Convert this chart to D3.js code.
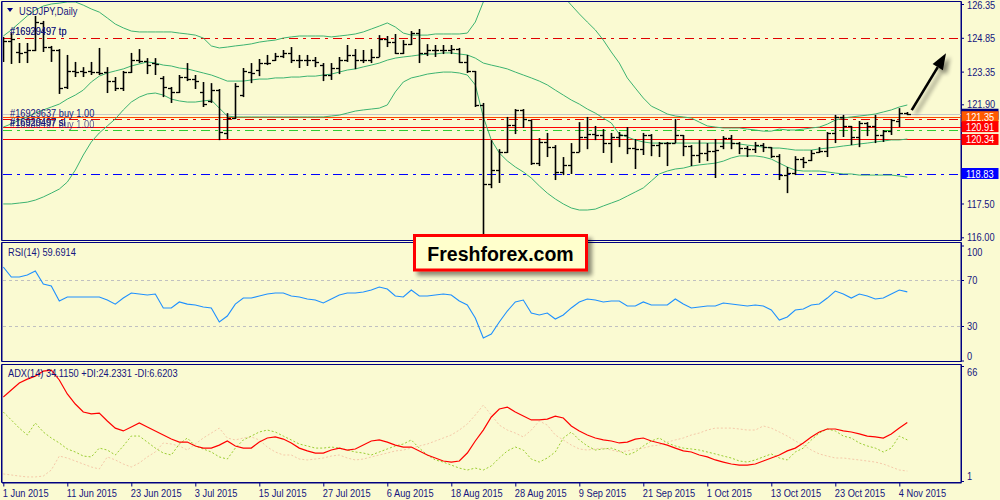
<!DOCTYPE html>
<html><head><meta charset="utf-8">
<script src="https://cdn.jsdelivr.net/npm/d3@7"></script>
<style>
html,body{margin:0;padding:0;background:#fafad2;}
svg{display:block;}
text{font-family:'Liberation Sans',Arial,sans-serif;font-size:11px;}
</style></head><body>
<svg id="chart" width="1000" height="500"></svg>
<script>
// ---------- DATA ----------
const symbolTitle = "USDJPY,Daily";
const tickLabels = ["1 Jun 2015","11 Jun 2015","23 Jun 2015","3 Jul 2015","15 Jul 2015","27 Jul 2015","6 Aug 2015","18 Aug 2015","28 Aug 2015","9 Sep 2015","21 Sep 2015","1 Oct 2015","13 Oct 2015","23 Oct 2015","4 Nov 2015"];
const tickIndex = [0,8,16,24,32,40,48,56,64,72,80,88,96,104,112];

const open = [124.75,124.72,124.20,124.22,124.31,125.50,124.44,124.31,122.67,123.38,123.38,123.38,123.33,123.33,122.93,122.62,123.33,123.86,123.82,123.73,123.07,122.62,122.44,123.11,123.02,122.44,122.05,122.53,120.63,121.29,122.31,123.33,123.42,123.73,123.86,124.04,124.18,123.86,123.88,123.86,123.64,123.20,123.51,123.86,124.09,123.86,123.86,124.00,124.80,124.66,124.18,124.58,125.06,124.18,124.31,124.31,124.31,124.35,123.78,123.38,121.87,118.36,118.98,119.78,120.98,121.65,121.20,119.30,120.23,120.00,118.90,119.21,119.78,120.45,120.58,120.54,120.18,120.45,120.54,119.96,119.91,120.54,120.09,120.18,120.18,120.54,120.05,119.65,119.74,119.83,120.05,120.40,120.18,119.96,119.91,120.09,120.00,119.60,118.76,118.85,119.47,119.43,119.78,119.83,120.63,121.34,120.94,120.45,121.07,120.94,120.54,120.71,121.16,121.51];
const high = [124.89,125.06,124.62,124.62,125.82,125.60,124.49,124.35,124.09,123.78,123.55,123.78,124.40,123.55,123.11,123.38,124.18,124.35,123.95,123.95,123.15,122.67,123.20,123.73,123.20,122.89,122.84,122.58,121.51,122.84,123.51,123.73,123.91,124.09,124.18,124.31,124.44,124.09,124.09,124.00,123.73,123.73,124.00,124.53,124.35,124.31,124.35,124.97,124.93,125.02,124.75,125.15,125.24,124.57,124.53,124.53,124.53,124.40,124.09,123.38,121.96,120.31,119.91,121.34,121.69,121.69,121.20,120.40,120.63,120.09,119.56,120.18,121.11,121.34,120.94,120.80,120.63,120.67,120.89,120.36,120.63,120.58,120.23,120.23,121.25,120.54,120.09,120.31,120.18,120.36,120.49,120.54,120.23,120.05,120.23,120.18,120.00,119.69,119.12,119.60,119.56,119.87,120.00,120.67,121.43,121.43,120.94,121.16,121.11,121.43,120.76,121.25,121.73,121.56];
const low = [123.78,123.69,123.73,123.73,124.26,124.22,123.78,122.36,122.58,123.11,123.11,123.20,123.20,122.40,122.49,122.49,123.29,123.73,123.24,123.20,122.22,121.96,122.40,122.93,122.58,121.78,121.96,120.31,120.36,121.25,122.22,122.84,123.15,123.64,123.82,123.95,123.73,123.51,123.60,123.55,122.93,122.98,123.24,123.78,123.46,123.73,123.73,124.00,124.44,124.13,124.13,124.53,123.73,124.04,124.00,124.13,124.13,123.73,123.29,121.78,116.06,118.18,118.41,119.74,120.58,120.85,119.21,119.16,119.56,118.54,118.76,118.81,119.78,119.91,120.31,119.74,119.30,120.00,119.69,119.03,119.65,119.60,119.56,119.16,120.18,119.60,119.16,119.30,119.38,118.63,119.91,119.91,119.69,119.56,119.74,119.78,119.52,118.54,117.96,118.76,119.07,119.38,119.74,119.56,120.18,120.45,120.09,120.00,120.49,120.18,120.23,120.54,120.89,121.42];
const close = [124.72,124.80,124.18,124.31,125.55,124.44,124.31,122.62,123.38,123.35,123.33,123.33,123.30,122.93,122.62,123.33,123.86,123.82,123.64,123.69,122.67,122.44,123.11,123.02,122.93,121.91,122.53,120.67,121.29,122.71,123.38,123.30,123.73,123.75,124.04,124.18,123.86,123.88,123.86,123.78,123.20,123.51,123.86,124.09,123.86,123.88,124.00,124.80,124.66,124.18,124.58,125.06,124.18,124.31,124.29,124.31,124.35,123.78,123.38,121.87,118.36,118.98,119.78,120.98,121.65,121.25,119.30,120.23,120.00,118.90,119.21,119.78,120.45,120.58,120.54,120.18,120.45,120.54,119.96,119.91,120.54,120.09,120.18,120.20,120.54,120.05,119.65,119.74,119.83,119.87,120.40,120.18,119.96,119.91,120.09,120.00,119.60,118.76,118.85,119.47,119.34,119.74,119.83,120.63,121.34,120.94,120.45,121.07,120.94,120.54,120.71,121.20,121.51,121.47];

const bbUpper = [124.93,125.20,125.51,125.82,126.08,126.26,126.35,126.39,126.44,126.44,126.30,126.13,125.99,125.73,125.46,125.29,125.15,125.11,125.11,125.11,125.11,125.11,125.06,125.02,124.97,124.84,124.49,124.40,124.44,124.49,124.53,124.58,124.66,124.71,124.75,124.84,124.89,124.93,124.93,124.93,124.93,124.89,124.93,124.97,125.02,125.11,125.24,125.37,125.51,125.33,125.06,124.97,124.97,124.97,125.02,125.02,125.02,125.02,125.06,125.55,126.44,127.10,127.46,127.55,127.59,127.59,127.55,127.50,127.50,127.06,126.70,126.30,125.91,125.55,125.20,124.75,124.22,123.73,123.07,122.62,122.18,121.82,121.65,121.47,121.38,121.34,121.29,121.11,120.94,120.89,120.85,120.85,120.85,120.80,120.76,120.71,120.71,120.80,120.76,120.76,120.80,120.85,120.89,121.02,121.20,121.29,121.34,121.38,121.42,121.47,121.56,121.65,121.78,121.87];
const bbMiddle = [120.89,121.03,121.20,121.34,121.51,121.65,121.78,121.91,122.13,122.31,122.53,122.89,123.15,123.29,123.38,123.47,123.60,123.69,123.78,123.73,123.64,123.60,123.51,123.47,123.38,123.29,123.20,123.07,122.93,122.93,122.93,122.98,123.02,123.02,123.07,123.07,123.11,123.11,123.15,123.15,123.20,123.24,123.33,123.42,123.47,123.56,123.64,123.73,123.86,123.95,124.00,124.04,124.09,124.13,124.13,124.18,124.18,124.13,124.09,123.95,123.73,123.64,123.56,123.47,123.33,123.20,123.07,122.93,122.76,122.53,122.31,122.09,121.91,121.69,121.51,121.29,121.07,120.58,120.45,120.32,120.23,120.18,120.18,120.18,120.18,120.18,120.18,120.18,120.18,120.18,120.18,120.18,120.14,120.09,120.05,120.00,119.96,119.96,119.92,119.87,119.87,119.87,119.92,119.96,120.00,120.05,120.09,120.14,120.18,120.23,120.27,120.32,120.32,120.36];
const bbLower = [117.48,117.48,117.52,117.56,117.65,117.79,117.96,118.14,118.45,118.98,119.65,120.23,120.63,120.94,121.25,121.65,122.00,122.22,122.36,122.40,122.31,122.13,122.05,122.00,122.00,122.05,122.09,121.73,121.38,121.34,121.34,121.34,121.34,121.34,121.34,121.34,121.34,121.34,121.34,121.34,121.34,121.38,121.42,121.51,121.60,121.65,121.69,121.73,121.87,122.45,122.89,123.07,123.15,123.24,123.29,123.33,123.33,123.29,123.20,122.76,121.34,120.32,119.74,119.39,119.12,118.90,118.63,118.28,117.96,117.70,117.48,117.30,117.21,117.21,117.25,117.39,117.52,117.65,117.83,118.01,118.19,118.50,118.81,118.94,119.03,119.07,119.16,119.21,119.25,119.29,119.38,119.52,119.61,119.61,119.61,119.56,119.47,119.29,119.12,118.98,118.94,118.94,118.94,118.90,118.85,118.81,118.81,118.76,118.76,118.76,118.76,118.76,118.72,118.67];

const rsi = [81.3,72.6,72.6,74.3,77.8,66.5,64.8,51.7,55.2,55.2,55.2,55.2,55.2,52.6,49.0,54.3,58.7,57.8,57.0,57.8,45.7,45.7,50.9,49.0,48.3,46.5,45.7,33.5,38.7,49.0,54.3,54.3,56.1,57.8,58.7,58.7,56.1,55.2,53.5,52.6,50.0,53.5,57.0,58.7,58.7,59.6,61.3,63.9,62.2,56.1,55.2,61.3,56.1,56.1,57.0,57.8,57.0,51.7,48.3,37.0,19.6,23.0,33.5,43.0,50.9,52.6,41.3,39.6,41.3,36.1,39.6,45.7,50.9,53.5,52.6,50.9,51.7,51.7,47.4,47.4,50.9,48.3,48.3,48.3,53.5,49.1,45.7,46.5,47.4,47.4,50.0,49.1,48.3,47.4,48.3,47.4,43.9,35.2,37.8,43.9,44.8,48.3,49.1,54.3,60.4,57.8,54.3,57.8,56.1,53.5,54.3,57.8,61.3,59.69];
const adx = [48.5,52.4,56.4,58.6,60.3,63.1,63.7,58.1,50.2,44.5,40.0,38.9,39.4,34.9,30.9,29.3,31.5,33.8,31.5,29.3,27.0,24.7,23.0,23.0,20.8,19.6,19.6,21.3,23.6,20.8,19.6,19.6,23.0,25.3,25.9,24.7,22.5,19.6,18.0,16.8,16.8,18.5,19.6,18.5,19.1,21.3,23.6,24.2,23.0,21.3,20.2,20.2,18.0,15.7,14.0,12.3,11.7,12.3,16.8,23.6,29.8,37.2,41.7,42.8,40.0,37.7,35.5,35.5,36.0,37.7,36.6,32.1,29.3,27.0,25.3,24.2,23.6,22.5,23.0,24.7,25.3,23.6,22.5,21.3,19.6,18.0,17.4,15.7,14.6,12.9,11.7,10.6,10.0,10.0,10.6,12.3,14.0,15.7,18.0,19.6,22.5,25.9,28.7,30.4,30.4,29.3,28.7,27.6,26.4,25.9,25.3,27.6,31.0,34.12];
const plusDI = [40.0,35.5,30.9,27.0,33.8,28.7,25.3,22.5,19.1,17.4,15.1,14.6,19.6,18.5,15.7,20.8,26.4,26.4,23.0,19.6,16.8,15.7,21.9,25.3,20.8,19.1,17.4,14.6,13.4,19.6,24.2,26.4,28.7,29.8,28.7,26.4,24.2,21.9,20.8,19.6,19.6,20.2,19.6,18.5,17.4,16.8,15.7,17.4,19.1,20.8,21.9,24.2,19.6,15.7,12.9,11.7,10.0,8.3,7.2,8.3,7.2,9.5,14.0,18.0,20.2,18.5,13.4,11.7,14.0,17.4,25.3,28.7,24.2,20.8,18.5,19.1,19.6,18.0,15.7,17.4,20.8,23.6,25.3,22.5,20.8,19.6,19.1,18.5,17.4,16.3,15.1,14.0,12.3,11.7,12.9,14.6,16.3,14.0,12.9,17.4,19.6,24.2,28.1,30.4,29.3,26.4,25.3,22.5,20.8,19.6,17.4,19.6,26.4,24.23];
const minusDI = [5.0,4.4,3.8,3.3,3.3,3.8,7.2,15.1,14.0,12.3,10.6,8.9,7.8,14.6,12.9,10.6,8.9,11.2,14.6,17.4,22.5,21.9,20.8,18.5,21.9,25.3,28.1,30.9,25.3,24.2,25.3,25.9,24.2,20.2,17.4,15.7,15.7,13.4,12.9,13.4,14.0,15.1,15.7,14.0,12.9,13.4,14.6,15.7,16.8,18.0,18.5,19.6,20.8,21.9,23.6,25.3,27.0,29.8,33.2,38.3,43.9,38.3,32.6,29.8,28.1,25.9,29.8,34.9,32.6,27.0,24.2,21.3,19.1,18.5,19.1,19.6,18.5,17.4,18.0,19.1,19.6,20.8,21.3,23.0,24.2,25.3,27.0,28.1,29.8,30.9,30.9,30.9,30.4,29.8,29.8,32.1,30.9,28.7,26.4,23.6,21.3,18.5,16.3,15.1,14.0,14.0,13.4,12.9,12.3,11.7,10.6,8.9,7.2,6.62];

const priceTicks = [126.35,124.85,123.35,121.90,120.40,118.90,117.50,116.00];
const rsiTicks = [100,70,30,0];
const rsiLevels = [70,30];
const adxTicks = [66,1];

// order / level lines (price values)
const tpLevel = 124.85;
const bidLevel = 121.46;
const buyLevel = 121.35;
const buyDashLevel = 121.26;
const level2 = 120.91;
const slLevel = 120.75;
const level3 = 120.34;
const supportLevel = 118.83;
const priceTagValues = [121.35, 120.91, 120.34, 118.83];

// ---------- DRAW ----------
const svg = d3.select('#chart');
const W = 1000, H = 500;
const bg = '#fafad2', navy = '#000080';
const N = close.length;
const idx = d3.range(N);
const FONT = "'Liberation Sans',Arial,sans-serif";
const SQ = 0.84;
function squeeze(sel, f){
  sel.each(function(){
    const L = this.getComputedTextLength();
    d3.select(this).attr('textLength', L*(f||SQ)).attr('lengthAdjust','spacingAndGlyphs');
  });
  return sel;
}

const x = d3.scaleLinear().domain([0, 119.7125]).range([3.3, 961]);
const y = d3.scaleLinear().domain([116.00, 126.35]).range([237.3, 4]);
const yR = d3.scaleLinear().domain([0, 100]).range([360.5, 245.5]);
const yA = d3.scaleLinear().domain([1, 66]).range([481, 366]);

const defs = svg.append('defs');
defs.append('clipPath').attr('id','clipMain').append('rect').attr('x',3).attr('y',2).attr('width',958).attr('height',238);
defs.append('clipPath').attr('id','clipRsi').append('rect').attr('x',3).attr('y',243).attr('width',958).attr('height',118);
defs.append('clipPath').attr('id','clipAdx').append('rect').attr('x',3).attr('y',365).attr('width',958).attr('height',117);
const sh = defs.append('filter').attr('id','shadow').attr('x','-30%').attr('y','-30%').attr('width','160%').attr('height','160%');
sh.append('feGaussianBlur').attr('in','SourceAlpha').attr('stdDeviation',2.2);
sh.append('feOffset').attr('dx',4).attr('dy',4).attr('result','ob');
sh.append('feComponentTransfer').append('feFuncA').attr('type','linear').attr('slope',0.45);
const fm = sh.append('feMerge'); fm.append('feMergeNode'); fm.append('feMergeNode').attr('in','SourceGraphic');

svg.append('rect').attr('width',W).attr('height',H).attr('fill',bg);

// panel frames
const frames = [[1.5,240.5],[242.5,361.5],[364.5,482.5]];
frames.forEach(f=>{
  svg.append('rect').attr('x',2).attr('y',f[0]).attr('width',959).attr('height',f[1]-f[0])
    .attr('fill','none').attr('stroke',navy).attr('stroke-width',1);
  svg.append('line').attr('x1',1.5).attr('x2',1.5).attr('y1',f[0]).attr('y2',f[1]).attr('stroke',navy).attr('stroke-width',1);
});

// ---- MAIN PANEL ----
const gMain = svg.append('g').attr('clip-path','url(#clipMain)');
const hline = (p,color,dash,w)=>{
  gMain.append('line').attr('x1',3).attr('x2',961).attr('y1',Math.round(y(p))+0.5).attr('y2',Math.round(y(p))+0.5)
    .attr('stroke',color).attr('stroke-width',w||1).attr('stroke-dasharray',dash||null);
};
hline(bidLevel,'#c8c8c8');
hline(tpLevel,'#e00000','9,5,3,5');
hline(buyLevel,'#ff4500');
hline(buyDashLevel,'#e00000','9,5,3,5');
hline(level2,'#ff0000');
hline(slLevel,'#32cd32','9,5,3,5');
hline(level3,'#ff0000');
hline(supportLevel,'#0000ff','9,5,3,5');

const bandLine = d3.line().x((d,i)=>x(i)).y(d=>y(d));
[bbUpper,bbMiddle,bbLower].forEach(arr=>{
  gMain.append('path').attr('d',bandLine(arr)).attr('fill','none').attr('stroke','#3cb371').attr('stroke-width',1);
});

const gBars = gMain.append('g').attr('stroke','#000');
idx.forEach(i=>{
  const cx = Math.round(x(i))+0.5;
  gBars.append('line').attr('x1',cx).attr('x2',cx).attr('y1',y(high[i])).attr('y2',y(low[i])).attr('stroke-width',1.6);
  gBars.append('line').attr('x1',cx-3.5).attr('x2',cx).attr('y1',Math.round(y(open[i]))+0.5).attr('y2',Math.round(y(open[i]))+0.5).attr('stroke-width',1.3);
  gBars.append('line').attr('x1',cx).attr('x2',cx+3.5).attr('y1',Math.round(y(close[i]))+0.5).attr('y2',Math.round(y(close[i]))+0.5).attr('stroke-width',1.3);
});

// order labels
const txtColor = '#14147e';
const addText = (t,xx,yy)=>squeeze(svg.append('text').attr('x',xx).attr('y',yy).attr('fill',txtColor).style('font-size','11px').text(t));
addText('#16929497 tp',10,Math.round(y(tpLevel))-3);
addText('#16930497 tp',10,Math.round(y(tpLevel))-3).attr('opacity',0.6);
addText('#16929637 buy 1.00',10,Math.round(y(buyLevel))+0);
addText('#16929497 sl',10,Math.round(y(level2))-1);
addText('#16930497 sl',10,Math.round(y(level2))-1).attr('opacity',0.6);
addText('#16930497 buy 1.00',10,Math.round(y(level2))+1).attr('opacity',0.7);

// title
svg.append('path').attr('d','M7,8 L13,8 L10,12 Z').attr('fill',navy);
addText(symbolTitle,19,15);

function styleAxisText(sel){
  sel.attr('fill',txtColor).style('font-size','11px').style('font-family',FONT);
  squeeze(sel);
}

// price axis
const axMain = svg.append('g').attr('transform','translate(961,0)')
  .call(d3.axisRight(y).tickValues(priceTicks).tickFormat(d3.format('.2f')).tickSize(3).tickPadding(3));
axMain.select('.domain').attr('stroke',navy).attr('d','M0.5,1.5V240.5');
axMain.selectAll('.tick line').attr('stroke',navy);
axMain.selectAll('text').attr('dy',d=> d===126.35 ? '0.45em' : '0.32em');
styleAxisText(axMain.selectAll('text'));

// price tags
const bidY = y(bidLevel);
svg.append('rect').attr('x',961.5).attr('y',bidY-5.5).attr('width',37).attr('height',11).attr('fill',navy);
const tagColors = ['#ff5a00','#ff0000','#ff0000','#0000ff'];
priceTagValues.forEach((v,k)=>{
  const yy = y(v);
  svg.append('rect').attr('x',961.5).attr('y',yy-5.5).attr('width',37).attr('height',11).attr('fill',tagColors[k]);
  squeeze(svg.append('text').attr('x',966).attr('y',yy+4).attr('fill','#fff').style('font-size','11px').text(v.toFixed(2)));
});

// arrow
const ga = svg.append('g').attr('filter','url(#shadow)');
const ax0 = x(113.55), ay0 = y(121.64), ax1 = x(117.84), ay1 = y(124.16);
const ang = Math.atan2(ay1-ay0, ax1-ax0);
const hl = 16, hw = 6;
const bx = ax1 - hl*Math.cos(ang), by = ay1 - hl*Math.sin(ang);
ga.append('line').attr('x1',ax0).attr('y1',ay0).attr('x2',bx).attr('y2',by).attr('stroke','#000').attr('stroke-width',2.6);
ga.append('path').attr('d',`M${ax1},${ay1} L${bx + hw*Math.sin(ang)},${by - hw*Math.cos(ang)} L${bx - hw*Math.sin(ang)},${by + hw*Math.cos(ang)} Z`).attr('fill','#000');

// ---- RSI PANEL ----
const gR = svg.append('g').attr('clip-path','url(#clipRsi)');
rsiLevels.forEach(l=>{
  gR.append('line').attr('x1',3).attr('x2',961).attr('y1',Math.round(yR(l))+0.5).attr('y2',Math.round(yR(l))+0.5)
    .attr('stroke','#c0c0c0').attr('stroke-dasharray','3,3');
});
gR.append('path').attr('d',d3.line().x((d,i)=>x(i)).y(d=>yR(d))(rsi)).attr('fill','none').attr('stroke','#1e90ff').attr('stroke-width',1.1);
addText('RSI(14) 59.6914',8,256);
const axR = svg.append('g').attr('transform','translate(961,0)')
  .call(d3.axisRight(yR).tickValues(rsiTicks).tickFormat(d3.format('d')).tickSize(3).tickPadding(3));
axR.select('.domain').attr('stroke',navy).attr('d','M0.5,242.5V361.5');
axR.selectAll('.tick line').attr('stroke',navy);
axR.selectAll('text').attr('dy',d=> d===100 ? '0.9em' : (d===0 ? '-0.1em' : '0.32em'));
styleAxisText(axR.selectAll('text'));

// ---- ADX PANEL ----
const gA = svg.append('g').attr('clip-path','url(#clipAdx)');
const lA = d3.line().x((d,i)=>x(i)).y(d=>yA(d));
gA.append('path').attr('d',lA(minusDI)).attr('fill','none').attr('stroke','#f5c9a9').attr('stroke-width',1).attr('stroke-dasharray','2,2');
gA.append('path').attr('d',lA(plusDI)).attr('fill','none').attr('stroke','#9acd32').attr('stroke-width',1).attr('stroke-dasharray','2,2');
gA.append('path').attr('d',lA(adx)).attr('fill','none').attr('stroke','#ff0000').attr('stroke-width',1.2);
addText('ADX(14) 34.1150 +DI:24.2331 -DI:6.6203',8,377);
const axA = svg.append('g').attr('transform','translate(961,0)')
  .call(d3.axisRight(yA).tickValues(adxTicks).tickFormat(d3.format('d')).tickSize(3).tickPadding(3));
axA.select('.domain').attr('stroke',navy).attr('d','M0.5,364.5V482.5');
axA.selectAll('.tick line').attr('stroke',navy);
axA.selectAll('text').attr('dy',d=> d===66 ? '0.9em' : '-0.1em');
styleAxisText(axA.selectAll('text'));

// ---- X AXIS ----
const axX = svg.append('g').attr('transform','translate(0,482.5)')
  .call(d3.axisBottom(x).tickValues(tickIndex).tickFormat((d,k)=>tickLabels[k]).tickSize(4).tickPadding(3));
axX.select('.domain').attr('stroke',navy).attr('d','M2,0.5H961.5');
axX.selectAll('.tick line').attr('stroke',navy);
axX.selectAll('text').attr('text-anchor','start').attr('dx','-1');
styleAxisText(axX.selectAll('text'));

// ---- Freshforex label ----
const gF = svg.append('g');
gF.append('rect').attr('x',414.5).attr('y',235.5).attr('width',172).attr('height',34.5)
  .attr('fill','#ffffcc').attr('stroke','#ff0000').attr('stroke-width',3).attr('filter','url(#shadow)');
gF.append('text').attr('x',500.5).attr('y',261).attr('text-anchor','middle')
  .style('font-family',FONT).style('font-size','19.5px').style('font-weight','bold')
  .attr('fill','#000').text('Freshforex.com');
</script>
</body></html>
